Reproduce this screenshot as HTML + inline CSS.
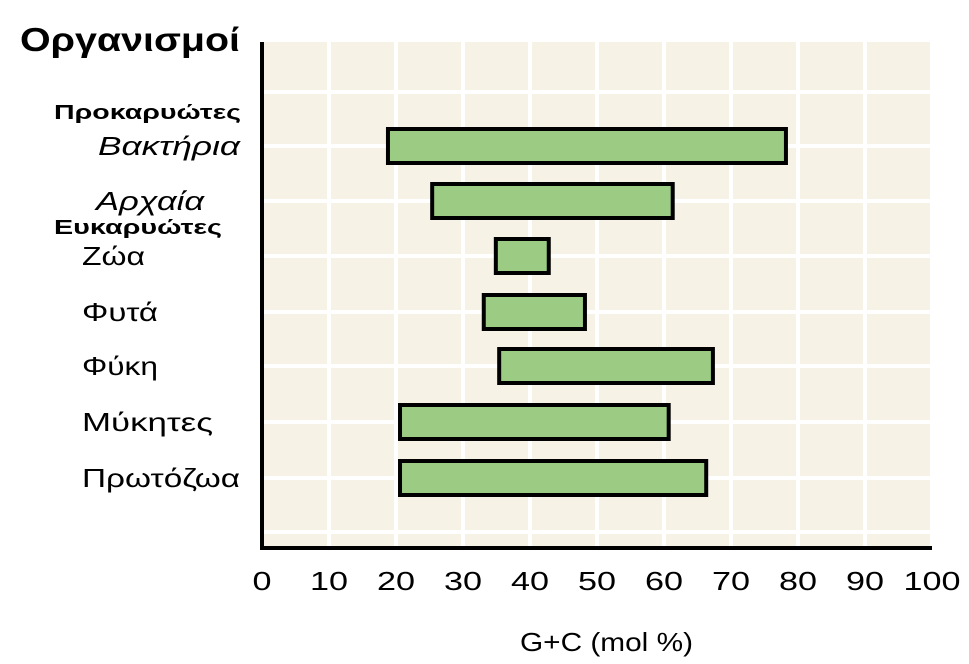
<!DOCTYPE html>
<html><head><meta charset="utf-8"><style>
body{margin:0;background:#fff;}
svg{display:block;font-family:"Liberation Sans",sans-serif;}
</style></head><body>
<svg id="c" width="969" height="664">
<text x="20" y="51" font-size="33" font-weight="bold" textLength="220" lengthAdjust="spacingAndGlyphs">Οργανισμοί</text>
<text x="54" y="119" font-size="20" font-weight="bold" textLength="187" lengthAdjust="spacingAndGlyphs">Προκαρυώτες</text>
<text x="54" y="234" font-size="20" font-weight="bold" textLength="168" lengthAdjust="spacingAndGlyphs">Ευκαρυώτες</text>
<text x="520" y="651" font-size="26" textLength="173" lengthAdjust="spacingAndGlyphs">G+C (mol %)</text>
</svg>
<script>
const categories=["Βακτήρια","Αρχαία","Ζώα","Φυτά","Φύκη","Μύκητες","Πρωτόζωα"];
const italic=[true,true,false,false,false,false,false];
const lows=[18.8,25.4,34.9,33.1,35.4,20.6,20.6];
const highs=[78.2,61.3,42.8,48.2,67.3,60.7,66.3];
const xTicks=[0,10,20,30,40,50,60,70,80,90,100];
const centers=[146,201,256,312,366,422,478];
const labelX=[98,96,82,82,82,82,82];
const labelW=[142,108,63,76,76,131,158];
const NS="http://www.w3.org/2000/svg";
const svg=document.getElementById('c');
const X0=262,X1=932,TOP=42,BOT=548;
const x=v=>X0+(v-0)/(100-0)*(X1-X0);
function mk(t,a,p){const e=document.createElementNS(NS,t);for(const k in a)e.setAttribute(k,a[k]);if(p)p.appendChild(e);else svg.insertBefore(e,svg.firstChild?null:null);return e;}
const bg=mk('rect',{x:X0,y:TOP,width:X1-X0,height:BOT-TOP,fill:'#f6f2e6'});


xTicks.forEach(t=>{if(t===0)return;const l=mk('line',{x1:x(t),x2:x(t),y1:TOP,y2:BOT,stroke:'#fff','stroke-width':4});

});
centers.concat([92,532]).forEach(c=>{const l=mk('line',{x1:X0,x2:X1,y1:c,y2:c,stroke:'#fff','stroke-width':4});

});
categories.forEach((cat,i)=>{
 const r=mk('rect',{x:x(lows[i]),y:centers[i]-17,width:x(highs[i])-x(lows[i]),height:34,fill:'#9ccc84',stroke:'#000','stroke-width':4});
 
 
 const tx=mk('text',{x:labelX[i],y:centers[i]+9,'font-size':26,'font-style':italic[i]?'italic':'normal',textLength:labelW[i],lengthAdjust:'spacingAndGlyphs'});
 tx.textContent=cat;
 
 
});
const ax=mk('path',{d:`M${X0} ${TOP} V${BOT} H${X1}`,fill:'none',stroke:'#000','stroke-width':4});


xTicks.forEach(t=>{const s=String(t);const w=19*s.length;const tx=mk('text',{x:x(t)-w/2,y:590,'font-size':26,textLength:w,lengthAdjust:'spacingAndGlyphs'});tx.textContent=s;

});
</script>
</body></html>
